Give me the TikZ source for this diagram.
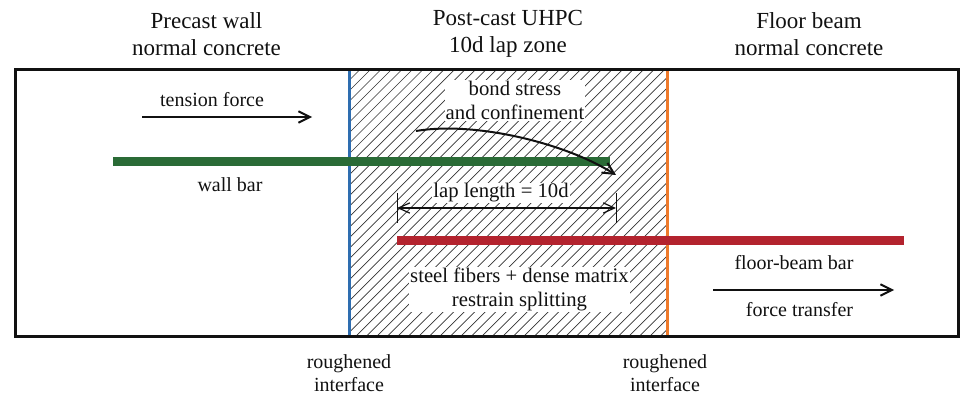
\documentclass[tikz,border=0pt]{standalone}
\usepackage{fontspec}
\setmainfont{Liberation Serif}
\usepackage{xcolor}
\usetikzlibrary{arrows.meta,positioning,calc}
\definecolor{ink}{HTML}{111111}
\definecolor{hatchgray}{HTML}{333333}
\definecolor{wallgreen}{HTML}{2A6B36}
\definecolor{beamred}{HTML}{B3232E}
\definecolor{faceblue}{HTML}{2E6DB0}
\definecolor{faceorange}{HTML}{EE7A2B}
\tikzset{
  title/.style={font=\fontsize{23}{26.5}\selectfont,align=center,text=ink},
  label/.style={font=\fontsize{20}{23}\selectfont,align=center,text=ink,inner sep=2pt},
  haze/.style={align=center,text=ink,font=\fontsize{20.7}{24.5}\selectfont,fill=white,inner sep=1pt},
  bar/.style={line width=9pt,line cap=butt},
  face/.style={line width=3pt},
  flowarr/.style={-{Straight Barb[length=4mm,width=4mm]},line width=2pt,color=ink},
  dimarr/.style={{Straight Barb[length=4mm,width=3.6mm]}-{Straight Barb[length=4mm,width=3.6mm]},line width=1.2pt,color=ink},
  tick/.style={line width=1pt,color=ink}
}
\begin{document}
\begin{tikzpicture}[x=1pt,y=-1pt]
      \useasboundingbox (0,0) rectangle (973,403);
      % lap zone hatching
      \begin{scope}
        \clip (349,70) rectangle (667,336);
        \foreach \hx in {0,10.5,...,600} {
          \draw[hatchgray,line width=0.7pt] (349+\hx-266,336)--++(266,-266);
        }
      \end{scope}

      % headings
      \node[title] (wallhead) at (206.5,34) {Precast wall\\normal concrete};
      \node[title] (laphead) at (508,34) {Post-cast UHPC\\10d lap zone};
      \node[title] (beamhead) at (809,34) {Floor beam\\normal concrete};

      % interfaces and frame
      \coordinate (bluetop) at (349,70);
      \coordinate (bluebot) at (349,336);
      \coordinate (orangetop) at (667,70);
      \coordinate (orangebot) at (667,336);
      \draw[faceblue,face] (bluetop)--(bluebot);
      \draw[faceorange,face] (orangetop)--(orangebot);
      \draw[ink,line width=3pt] (15.5,70) rectangle (958,336.5);

      % bars
      \coordinate (wallstart) at (113,162);
      \coordinate (wallend) at (610,162);
      \coordinate (beamstart) at (397,240);
      \coordinate (beamend) at (904,240);
      \draw[wallgreen,bar] (wallstart)--(wallend);
      \draw[beamred,bar] (beamstart)--(beamend);

      % labels left and right
      \node[label] (tension) at (212,100) {tension force};
      \coordinate (tensionA) at (142,117);
      \coordinate (tensionB) at (312,117);
      \draw[flowarr] (tensionA)--(tensionB);
      \node[label] (wallbar) at (230,185) {wall bar};
      \node[label] (beambar) at (794,263) {floor-beam bar};
      \coordinate (transferA) at (713,290);
      \coordinate (transferB) at (894,290);
      \draw[flowarr] (transferA)--(transferB);
      \node[label] (transfer) at (799.5,310) {force transfer};

      % lap zone labels
      \node[haze] (bond) at (515,100.5) {bond stress\\and confinement};
      \coordinate (bondA) at (416,131);
      \coordinate (bondB) at (616,175);
      \draw[flowarr] (bondA) .. controls (475,121) and (565,143) .. (bondB);
      \node[haze] (lap) at (501,193) {lap length = 10d};
      \coordinate (lapA) at (397,208);
      \coordinate (lapB) at (616,208);
      \draw[dimarr] (lapA)--(lapB);
      \draw[tick] (397,193)--(397,223);
      \draw[tick] (616,193)--(616,223);
      \node[haze] (fibers) at (519.5,289.5) {steel fibers + dense matrix\\restrain splitting};

      % interface notes
      \node[label] (noteL) at (349,373.5) {roughened\\interface};
      \node[label] (noteR) at (665,373.5) {roughened\\interface};
    \end{tikzpicture}
\end{document}
